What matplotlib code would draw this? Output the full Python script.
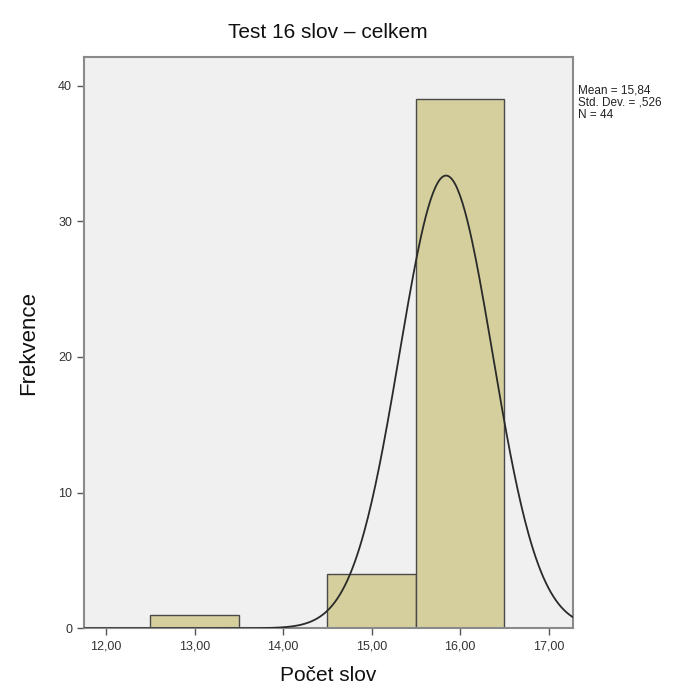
import numpy as np
import matplotlib
matplotlib.use('Agg')
import matplotlib.pyplot as plt

plt.rcParams['font.family'] = ['Liberation Sans', 'DejaVu Sans']

# histogram bins (centre of bin) and counts
bin_centers = [13.0, 15.0, 16.0]
counts = [1, 4, 39]
bin_width = 1.0

# summary stats shown by SPSS
mean_val = 15.84
sd_val = 0.526
n_val = 44

x_ticks = [12, 13, 14, 15, 16, 17]
y_ticks = [0, 10, 20, 30, 40]

BAR = '#D4CF9C'
BG = '#F0F0F0'
SPINE = '#8A8A8A'

fig = plt.figure(figsize=(6.74, 6.97), dpi=100)
fig.patch.set_facecolor('white')
ax = fig.add_axes([0.1246, 0.0986, 0.7250, 0.8194])
ax.set_facecolor(BG)

ax.bar(bin_centers, counts, width=bin_width, color=BAR,
       edgecolor='#4A4A4A', linewidth=1.0, zorder=2)

xs = np.linspace(11.75, 17.27, 400)
pdf = np.exp(-0.5 * ((xs - mean_val) / sd_val) ** 2) / (sd_val * np.sqrt(2 * np.pi))
ax.plot(xs, n_val * bin_width * pdf, color='#2A2A2A', lw=1.3, zorder=3)

ax.set_xlim(11.75, 17.27)
ax.set_ylim(0, 42.1)
ax.set_xticks(x_ticks)
ax.set_xticklabels([f'{t:.2f}'.replace('.', ',') for t in x_ticks])
ax.set_yticks(y_ticks)
ax.tick_params(axis='both', direction='out', length=5, width=1,
               color='#555555', labelsize=9, labelcolor='#333333')

for s in ax.spines.values():
    s.set_color(SPINE)
    s.set_linewidth(1.5)

ax.set_title('Test 16 slov – celkem', fontsize=15, pad=14, color='#111111')
ax.set_xlabel('Počet slov', fontsize=15, labelpad=10, color='#111111')
ax.set_ylabel('Frekvence', fontsize=16, labelpad=14, color='#111111')

fig.text(0.858, 0.879,
         f'Mean = {mean_val:.2f}'.replace('.', ',') +
         f'\nStd. Dev. = {sd_val:.3f}'.replace('0.', ',') +
         f'\nN = {n_val}',
         fontsize=8.5, va='top', ha='left', color='#222222', linespacing=1.05)

fig.savefig('out.png', dpi=100, facecolor='white')
